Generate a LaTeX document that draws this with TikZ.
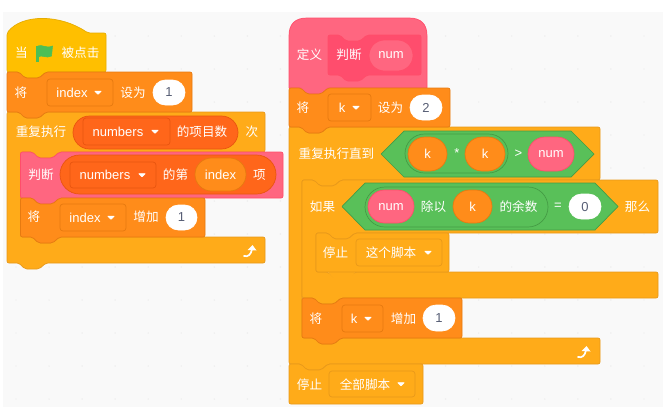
\documentclass[tikz,border=0pt]{standalone}
\usepackage{fontspec}
\setmainfont{Liberation Sans}
\newfontfamily\cjk{Noto Sans CJK SC}
\definecolor{evf}{HTML}{FFBF00}\definecolor{evd}{HTML}{E6AC00}
\definecolor{varf}{HTML}{FF8C1A}\definecolor{vard}{HTML}{E67A10}
\definecolor{ctlf}{HTML}{FFAB19}\definecolor{ctld}{HTML}{E8991A}
\definecolor{pinkf}{HTML}{FF6680}\definecolor{pinkd}{HTML}{FF4D6A}
\definecolor{pinkin}{HTML}{FF4D6D}
\definecolor{grnf}{HTML}{59C059}\definecolor{grnd}{HTML}{459C45}
\definecolor{lstf}{HTML}{FF661A}\definecolor{lstd}{HTML}{E8550F}
\definecolor{wsbg}{HTML}{F9F9F9}\definecolor{wsdot}{HTML}{EAEAEA}
\definecolor{numtx}{HTML}{575E75}
\definecolor{flagf}{HTML}{4CBF56}\definecolor{flagd}{HTML}{45993D}
\tikzset{
  blk/.style={line width=0.7pt,rounded corners=2pt,line join=round},
  lab/.style={text=white,font=\fontsize{13}{13}\selectfont,inner sep=0pt,anchor=center},
  cjklab/.style={text=white,font=\cjk\fontsize{12.6}{13}\selectfont,inner sep=0pt,anchor=center},
  numlab/.style={text=numtx,font=\fontsize{13}{13}\selectfont,inner sep=0pt,anchor=center},
  caret/.style={fill=white,draw=white,line width=0.8pt,line join=round},
}
% plain stack block: left, top, right, bottom, fill, draw
\newcommand{\stackblk}[6]{\draw[blk,fill=#5,draw=#6]
  (#1,#2) -- ({#1+12},#2) -- ({#1+18},{#2+6}) -- ({#1+32},{#2+6}) -- ({#1+39},#2)
  -- (#3,#2) -- (#3,#4) -- ({#1+39},#4) -- ({#1+32},{#4+6}) -- ({#1+18},{#4+6})
  -- ({#1+12},#4) -- (#1,#4) -- cycle;}
% cap block, flat bottom
\newcommand{\capblk}[6]{\draw[blk,fill=#5,draw=#6]
  (#1,#2) -- ({#1+12},#2) -- ({#1+18},{#2+6}) -- ({#1+32},{#2+6}) -- ({#1+39},#2)
  -- (#3,#2) -- (#3,#4) -- (#1,#4) -- cycle;}
% C block: left, top, right, armbottom, inner x, bar top, bar bottom, fill, draw
\newcommand{\cblk}[9]{\draw[blk,fill=#8,draw=#9]
  (#1,#2) -- ({#1+12},#2) -- ({#1+18},{#2+6}) -- ({#1+32},{#2+6}) -- ({#1+39},#2)
  -- (#3,#2) -- (#3,#4) -- ({#5+39},#4) -- ({#5+32},{#4+6}) -- ({#5+18},{#4+6})
  -- ({#5+12},#4) -- (#5,#4) -- (#5,#6) -- ({#5+12},#6) -- ({#5+18},{#6+6})
  -- ({#5+32},{#6+6}) -- ({#5+39},#6) -- (#3,#6) -- (#3,#7) -- ({#1+39},#7)
  -- ({#1+32},{#7+6}) -- ({#1+18},{#7+6}) -- ({#1+12},#7) -- (#1,#7) -- cycle;}
% pill: x1,y1,x2,y2,fill,draw
\newcommand{\pill}[6]{\pgfmathsetmacro\pillr{(#4-#2)/2-0.01}%
  \draw[line width=0.7pt,fill=#5,draw=#6,rounded corners=\pillr pt] (#1,#2) rectangle (#3,#4);}
% dropdown: x1,y1,x2,y2,fill,draw,caret x
\newcommand{\ddown}[7]{\draw[line width=0.7pt,fill=#5,draw=#6,rounded corners=3pt] (#1,#2) rectangle (#3,#4);
  \pgfmathsetmacro\caretm{(#2+#4)/2}%
  \draw[caret] ({#7-3},{\caretm-1.3}) -- ({#7+3},{\caretm-1.3}) -- (#7,{\caretm+1.7}) -- cycle;}
% hexagon: x1,y1,x2,y2
\newcommand{\hexb}[4]{\pgfmathsetmacro\hexm{(#2+#4)/2}%
  \draw[line width=0.7pt,line join=round,fill=grnf,draw=grnd] (#1,\hexm) -- ({#1+23},#2) -- ({#3-23},#2)
  -- (#3,\hexm) -- ({#3-23},#4) -- ({#1+23},#4) -- cycle;}
% loop arrow: tip x, tip y
\newcommand{\loopar}[2]{\draw[white,line width=1.7pt,line cap=round] ({#1-8},{#2+10}) .. controls ({#1-4},{#2+11}) and ({#1-1},{#2+9}) .. (#1,{#2+3});
  \fill[white] ({#1-4.5},{#2+4}) -- ({#1+0.5},{#2-1}) -- ({#1+4.5},{#2+4.5}) -- cycle;}
\begin{document}
\begin{tikzpicture}[x=1pt,y=-1pt]
\useasboundingbox (0,0) rectangle (669,413);
\fill[white] (0,0) rectangle (669,413);
\fill[wsbg] (3,12) rectangle (663,407);
\foreach \dx in {0,...,19} \foreach \dy in {0,...,11}
  \fill[wsdot] ({16+33.05*\dx},{36+33*\dy}) circle (0.7);

%% ---------- left stack ----------
% repeat C
\cblk{7}{112}{265}{152}{20.5}{237}{263}{ctlf}{ctld}
% when flag clicked hat
\draw[blk,fill=evf,draw=evd] (7,33) .. controls (22,14) and (60,14) .. (88,33) -- (106,33) -- (106,72)
  -- (46,72) -- (39,78) -- (25,78) -- (19,72) -- (7,72) -- cycle;
\draw[flagf,line width=2.6pt] (37.5,45.5) -- (37.5,62);
\draw[fill=flagf,draw=flagf,line width=0.6pt,line join=round] (38,46) .. controls (42,44) and (46,49) .. (52.5,46) -- (51.5,56) .. controls (46,59) and (42,54) .. (38,57) -- cycle;
\node[cjklab] (whenA) at (21.5,53) {当};
\node[cjklab] (whenB) at (80.5,53) {被点击};
% set index
\stackblk{7}{72}{192}{112}{varf}{vard}
\node[cjklab] (jiangA) at (21,93) {将};
\ddown{47}{79}{113}{106}{varf}{vard}{98}
\node[lab] (idxA) at (72,92.5) {index};
\node[cjklab] (setA) at (133,93) {设为};
\pill{153}{80}{185}{105}{white}{white}
\node[numlab] (oneA) at (169,92.5) {1};
% repeat contents
\pill{73}{116}{238}{149}{lstf}{lstd}
\ddown{83}{118}{170}{145}{lstf}{lstd}{155}
\node[cjklab] (repA) at (41,132) {重复执行};
\node[lab] (numsA) at (118,132) {numbers};
\node[cjklab] (countA) at (202,132) {的项目数};
\node[cjklab] (timesA) at (252,132) {次};
% judge call
\stackblk{20.5}{152}{283}{198}{pinkf}{pinkd}
\pill{60}{155}{276}{194}{lstf}{lstd}
\ddown{70}{162}{156}{188}{lstf}{lstd}{142}
\pill{195}{158}{246}{191}{varf}{vard}
\node[cjklab] (judgeA) at (41,175) {判断};
\node[lab] (numsB) at (105,175) {numbers};
\node[cjklab] (ofA) at (175.5,175) {的第};
\node[lab] (idxB) at (220.5,175) {index};
\node[cjklab] (itemA) at (259.5,175) {项};
% change index
\stackblk{20.5}{198}{205}{237}{varf}{vard}
\node[cjklab] (jiangB) at (34,217) {将};
\ddown{60}{204}{126}{231}{varf}{vard}{111}
\node[lab] (idxC) at (85,217.5) {index};
\node[cjklab] (incA) at (146,217) {增加};
\pill{166}{205}{197}{230}{white}{white}
\node[numlab] (oneB) at (181.5,217.5) {1};
\loopar{252}{246}

%% ---------- right stack ----------
% repeat until C
\cblk{289}{127}{600}{180}{302}{338}{364}{ctlf}{ctld}
% define hat
\draw[line width=0.7pt,line join=round,fill=pinkf,draw=pinkd] (289,36) .. controls (289,24) and (295,18) .. (307,18)
  -- (409,18) .. controls (421,18) and (427,24) .. (427,36) -- (427,88) -- (328,88) -- (321,94) -- (307,94)
  -- (301,88) -- (289,88) -- cycle;
\stackblk{328}{35}{421}{75}{pinkin}{pinkd}
\pill{369}{40}{413}{71}{pinkf}{pinkd}
\node[cjklab] (defA) at (309.5,55) {定义};
\node[cjklab] (judgeB) at (349,55) {判断};
\node[lab] (numA) at (391,55.5) {num};
% set k
\stackblk{289}{88}{450}{127}{varf}{vard}
\node[cjklab] (jiangC) at (303,108) {将};
\ddown{328}{94}{371}{121}{varf}{vard}{356}
\node[lab] (kA) at (342,107.5) {k};
\node[cjklab] (setB) at (390.5,108) {设为};
\pill{410}{95}{442}{120}{white}{white}
\node[numlab] (twoA) at (426,107.5) {2};
% until condition
\node[cjklab] (untilA) at (336.5,154) {重复执行直到};
\hexb{381}{131}{594}{177}
\pill{405}{134}{508}{173}{grnf}{grnd}
\pill{408}{137}{447}{171}{varf}{vard}
\pill{465}{137}{505}{171}{varf}{vard}
\pill{528}{137}{574}{171}{pinkf}{pinkd}
\node[lab] (kB) at (427.5,154) {k};
\node[lab] (mulA) at (457,153) {*};
\node[lab] (kC) at (485,154) {k};
\node[lab] (gtA) at (518.5,154) {>};
\node[lab] (numB) at (551,154) {num};
% if C
\cblk{302}{180}{658}{233}{316}{272}{298}{ctlf}{ctld}
\fill[ctlf] (327,271) -- (335,279.5) -- (349,279.5) -- (356,271) -- cycle;
\node[cjklab] (ifA) at (322.5,207) {如果};
\hexb{342}{183}{618}{230}
\pill{365}{187}{548}{227}{grnf}{grnd}
\pill{368}{190}{414}{223}{pinkf}{pinkd}
\pill{453}{190}{492}{223}{varf}{vard}
\pill{569}{194}{601}{219}{white}{white}
\node[lab] (numC) at (391,207) {num};
\node[cjklab] (divA) at (433.5,207) {除以};
\node[lab] (kD) at (472.5,207) {k};
\node[cjklab] (modA) at (518.5,207) {的余数};
\node[lab] (eqA) at (558,206.5) {=};
\node[numlab] (zeroA) at (585,207) {0};
\node[cjklab] (thenA) at (637.5,207) {那么};
% stop this script
\capblk{316}{233}{449}{272}{ctlf}{ctld}
\node[cjklab] (stopA) at (335.5,253) {停止};
\ddown{356}{239}{442}{266}{ctlf}{ctld}{428}
\node[cjklab] (thisA) at (391,253) {这个脚本};
% change k
\stackblk{302}{298}{462}{338}{varf}{vard}
\node[cjklab] (jiangD) at (316,319) {将};
\ddown{342}{305}{383}{332}{varf}{vard}{368}
\node[lab] (kE) at (354,318.5) {k};
\node[cjklab] (incB) at (403.5,319) {增加};
\pill{423}{305}{455}{331}{white}{white}
\node[numlab] (oneC) at (439,318.5) {1};
\loopar{586}{347}
% stop all
\capblk{289}{364}{423}{404}{ctlf}{ctld}
\node[cjklab] (stopB) at (309.5,385) {停止};
\ddown{329}{371}{415}{397}{ctlf}{ctld}{401}
\node[cjklab] (allA) at (365,385) {全部脚本};
\end{tikzpicture}
\end{document}
